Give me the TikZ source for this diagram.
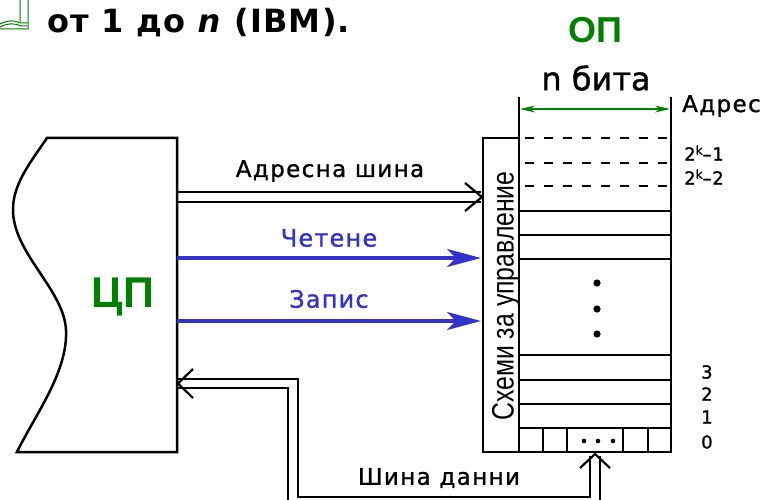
\documentclass[tikz,border=0pt]{standalone}
\usepackage{fontspec}
\setmainfont{DejaVu Sans}
\newfontfamily\narrowfont{Liberation Sans}
\usetikzlibrary{arrows.meta}
\definecolor{opgreen}{RGB}{0,128,0}
\definecolor{sigblue}{RGB}{51,51,204}
\newcommand{\supk}{\raisebox{6pt}{\fontsize{12}{12}\selectfont k}}
\begin{document}
\begin{tikzpicture}[x=1pt,y=-1pt,line join=miter,
  ln/.style={line width=2.5pt},
  bus/.style={line width=2.2pt},
  chev/.style={line width=2.2pt},
  dash row/.style={line width=2.5pt,dash pattern=on 9pt off 10pt,dash phase=13pt},
  sig/.style={sigblue,line width=3.5pt,-{Stealth[length=34pt,width=18pt,inset=9pt]}},
  lbl/.style={font=\fontsize{23}{23}\selectfont\addfontfeature{LetterSpace=6,FakeBold=1.2},inner sep=0pt},
  bluelbl/.style={font=\fontsize{24}{24}\selectfont\addfontfeature{LetterSpace=5,FakeBold=1.2},inner sep=0pt,text=sigblue},
  num/.style={font=\fontsize{18}{18}\selectfont\addfontfeature{LetterSpace=4,FakeBold=1.2},inner sep=0pt,anchor=west},
  dot/.style={fill=black}]
\useasboundingbox (0,0) rectangle (763,500);
\clip (0,0) rectangle (763,500);
% book icon
\draw[opgreen,line width=1pt] (0,29) -- (28,29) -- (28,0)
  (20,0) -- (20,22) (0,24) .. controls (8,20) and (15,20) .. (20,23) -- (27,23)
  (0,27) .. controls (8,23) and (15,23) .. (21,26) -- (27,26);
% title
\node[anchor=base west,inner sep=0pt,font=\bfseries\fontsize{32}{32}\selectfont\addfontfeature{LetterSpace=4}] (title) at (47,33) {от 1 до \textit{n} (IBM).};
% CPU
\draw[ln] (47,138) -- (177,138) -- (177,452) -- (17,452)
  .. controls (35,415) and (68,372) .. (66,330)
  .. controls (64,290) and (15,255) .. (13,212)
  .. controls (12,185) and (30,163) .. (47,138) -- cycle;
\node[text=opgreen,font=\narrowfont\bfseries\fontsize{43}{43}\selectfont,inner sep=0pt] (cpu) at (123,297) {ЦП};
\coordinate (cpuA1) at (177,192); \coordinate (cpuA2) at (177,202);
\coordinate (cpuR) at (177,258); \coordinate (cpuW) at (177,321);
\coordinate (cpuD1) at (177,379); \coordinate (cpuD2) at (177,388);
% memory
\draw[ln] (483,138) rectangle (519,452);
\node[rotate=90,inner sep=0pt,font=\narrowfont\fontsize{31}{31}\selectfont] (ctl) at (506,296) {\scalebox{0.8}[1]{Схеми за управление}};
\draw[ln] (519,97) -- (519,452) -- (671,452) -- (671,97);
\foreach \y in {211,235,259,355,380,404,428} \draw[ln] (519,\y) -- (671,\y);
\foreach \y in {138,163,186} \draw[dash row] (519,\y) -- (671,\y);
\foreach \x in {543,567,623,648} \draw[ln] (\x,428) -- (\x,452);
\foreach \x in {584,598,613} \fill[dot] (\x,441) circle (2.3pt);
\foreach \y in {283,309,334} \fill[dot] (597,\y) circle (3.6pt);
\draw[opgreen,line width=1.6pt,{Stealth[length=15pt,width=7pt]}-{Stealth[length=15pt,width=7pt]}] (520,109) -- (670,109);
\node[text=opgreen,font=\narrowfont\bfseries\fontsize{36}{36}\selectfont,inner sep=0pt] (op) at (595,30) {ОП};
\node[font=\fontsize{32}{32}\selectfont\addfontfeature{FakeBold=1.2},inner sep=0pt] (bits) at (596,78) {n бита};
\node[lbl,anchor=west] (adr) at (682,106) {Адрес};
\node[num] (a1) at (684,153) {2\supk–1};
\node[num] (a2) at (684,177) {2\supk–2};
\node[num] (n3) at (701,372) {3};
\node[num] (n2) at (701,394) {2};
\node[num] (n1) at (701,417) {1};
\node[num] (n0) at (701,442) {0};
\coordinate (memA1) at (481,192); \coordinate (memA2) at (481,202);
\coordinate (memR) at (481,258); \coordinate (memW) at (481,321);
\coordinate (memD1) at (590,456); \coordinate (memD2) at (600,456);
% address bus
\draw[bus] (cpuA1) -- (memA1) (cpuA2) -- (memA2);
\draw[chev] (465,183) -- (482,197) -- (465,211);
\node[lbl] (abl) at (330,171) {Адресна шина};
% control lines
\draw[sig] (cpuR) -- (memR);
\draw[sig] (cpuW) -- (memW);
\node[bluelbl] (rdl) at (329,238) {Четене};
\node[bluelbl] (wrl) at (329,299) {Запис};
% data bus
\draw[bus] (cpuD1) -- (298,379) -- (298,497) -| (memD1);
\draw[bus] (cpuD2) -- (288,388) -- (288,505);
\draw[bus] (memD2) -- (600,505);
\draw[chev] (193,369) -- (178,383.5) -- (193,398);
\draw[chev] (580,468) -- (595,454) -- (610,468);
\node[lbl] (dbl) at (439,478) {Шина данни};
\end{tikzpicture}
\end{document}
